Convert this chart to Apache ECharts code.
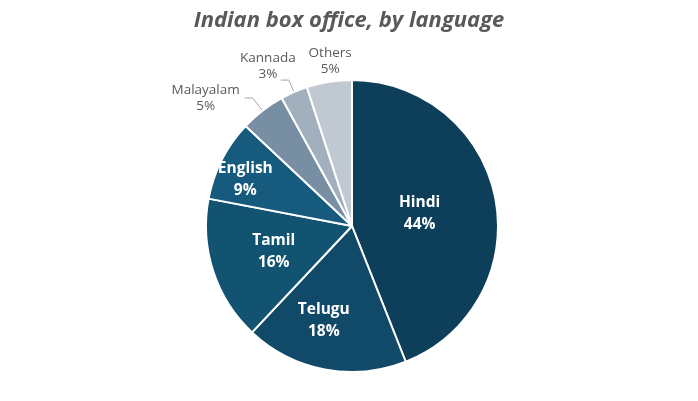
<!DOCTYPE html>
<html>
<head>
<meta charset="utf-8">
<script src="https://cdn.jsdelivr.net/npm/echarts@6/dist/echarts.min.js"></script>
<style>html,body{margin:0;padding:0;background:#fff;}#c{width:698px;height:401px;}</style>
</head>
<body>
<div id="c"></div>
<script>
const categories = ['Hindi', 'Telugu', 'Tamil', 'English', 'Malayalam', 'Kannada', 'Others'];
const values = [44, 18, 16, 9, 5, 3, 5];
const colors = ['#0d3f5b', '#114a68', '#135372', '#165b7e', '#788ea2', '#a2afbd', '#c0c9d2'];
const insideSet = ['Hindi', 'Telugu', 'Tamil', 'English'];

// label nudges (Excel-style label placement)
const labelNudge = {
  Hindi: { dx: -7, dy: 2 },
  Telugu: { dx: -14, dy: 20 },
  Tamil: { dx: -6, dy: 2 },
  English: { dx: -39, dy: -12 },
  Malayalam: {},
  Kannada: { align: 'center', dx: -8, dy: -14 },
  Others: { align: 'center', verticalAlign: 'bottom', dx: 6, dy: -5 }
};
const lineLen = { Malayalam: [16, 8], Kannada: [13, 8], Others: [0, 0] };

const chart = echarts.init(document.getElementById('c'));
const data = categories.map((name, i) => {
  const inside = insideSet.includes(name);
  return {
    name: name,
    value: values[i],
    itemStyle: { color: colors[i] },
    label: inside ? {
      position: 'inside',
      color: '#ffffff',
      fontWeight: 'bold',
      fontSize: 15.5,
      lineHeight: 22,
      formatter: p => p.name + '\n' + p.value + '%'
    } : {
      position: 'outside',
      color: '#595959',
      fontWeight: 'normal',
      formatter: p => '{t|' + p.name + '}\n{t|' + p.value + '%}',
      rich: { t: { fontSize: 13.5, lineHeight: 16, color: '#595959', fontFamily: 'Open Sans', align: 'center' } }
    },
    labelLine: inside ? { show: false } : {
      show: name !== 'Others',
      length: lineLen[name][0],
      length2: lineLen[name][1],
      lineStyle: { color: '#a6a6a6', width: 1 }
    }
  };
});

chart.setOption({
  title: {
    text: 'Indian box office, by language',
    left: 'center',
    top: 5,
    textStyle: { fontFamily: 'Open Sans', fontStyle: 'italic', fontWeight: 'bold', fontSize: 22, color: '#595959' }
  },
  series: [{
    type: 'pie',
    center: [352, 226],
    radius: 146,
    startAngle: 90,
    clockwise: true,
    avoidLabelOverlap: false,
    itemStyle: { borderColor: '#ffffff', borderWidth: 2 },
    label: { fontFamily: 'Open Sans' },
    labelLayout: p => Object.assign({ hideOverlap: false }, labelNudge[categories[p.dataIndex]]),
    data: data
  }]
});
</script>
</body>
</html>
